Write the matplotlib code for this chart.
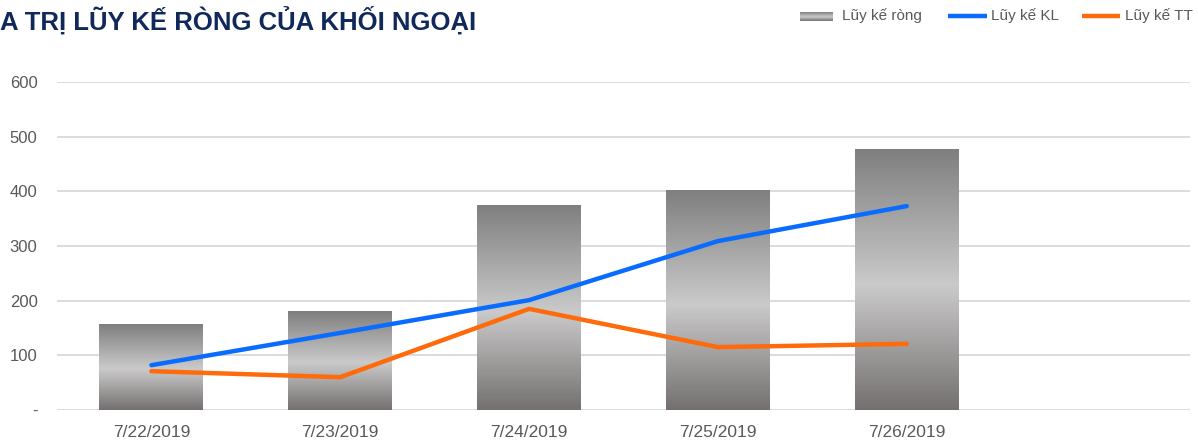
import numpy as np
import matplotlib.pyplot as plt
from matplotlib.colors import LinearSegmentedColormap
from matplotlib.lines import Line2D

# data
dates = ["7/22/2019", "7/23/2019", "7/24/2019", "7/25/2019", "7/26/2019"]
luy_ke_rong = [157, 180, 374, 402, 476]
luy_ke_kl = [82, 141, 201, 309, 373]
luy_ke_tt = [71, 60, 185, 115, 121]
yticks = [0, 100, 200, 300, 400, 500, 600]
ytick_labels = ["-", "100", "200", "300", "400", "500", "600"]

title = "A TRỊ LŨY KẾ RÒNG CỦA KHỐI NGOẠI"
text_color = "#595959"

plt.rcParams['font.family'] = ['Liberation Sans', 'DejaVu Sans']

# grey "metal" gradient: dark top, light middle, darker bottom
bar_cmap = LinearSegmentedColormap.from_list(
    "metal", [(0.0, "#7f7f7f"), (0.52, "#cbcaca"), (1.0, "#747070")])

W, H = 1198, 444
fig = plt.figure(figsize=(W / 100, H / 100), dpi=100)
ax = fig.add_axes([57 / W, 34 / H, (1190 - 57) / W, (410 - 82) / H])

x = np.arange(len(dates))
bar_w = 0.55
grad = np.linspace(0, 1, 256).reshape(-1, 1)
for xi, v in zip(x, luy_ke_rong):
    ax.imshow(grad, cmap=bar_cmap, aspect='auto', origin='upper',
              extent=[xi - bar_w / 2, xi + bar_w / 2, 0, v], zorder=2,
              interpolation='bilinear')

ax.plot(x, luy_ke_kl, color="#0a6cff", linewidth=3.2, solid_capstyle='round', zorder=3)
ax.plot(x, luy_ke_tt, color="#ff6a0a", linewidth=3.2, solid_capstyle='round', zorder=3)

ax.set_xlim(-0.5, 5.5)
ax.set_ylim(0, 600)
ax.set_yticks(yticks)
ax.set_yticklabels(ytick_labels)
ax.set_xticks(x)
ax.set_xticklabels(dates)
ax.tick_params(axis='y', length=0, pad=14, labelsize=12, labelcolor=text_color)
ax.tick_params(axis='x', length=0, pad=11, labelsize=12.5, labelcolor=text_color)
for s in ax.spines.values():
    s.set_visible(False)
ax.grid(axis='y', color="#d9d9d9", linewidth=1.3, zorder=0)
ax.set_axisbelow(True)

fig.text(0, 1 - 20 / H, title, fontsize=18.5, fontweight='bold',
         color="#10295a", va='center', ha='left')

# legend drawn by hand so the swatch keeps the gradient
ly = 1 - 16 / H
sw = fig.add_axes([800 / W, (H - 21) / H, 33 / W, 9 / H])
sw.imshow(grad, cmap=bar_cmap, aspect='auto')
sw.axis('off')
fig.text(842 / W, ly, "Lũy kế ròng", fontsize=11, color=text_color, va='center')
fig.add_artist(Line2D([948 / W, 987 / W], [ly, ly], color="#0a6cff", linewidth=3.2,
                      solid_capstyle='butt', transform=fig.transFigure))
fig.text(991 / W, ly, "Lũy kế KL", fontsize=11, color=text_color, va='center')
fig.add_artist(Line2D([1082 / W, 1120 / W], [ly, ly], color="#ff6a0a", linewidth=3.2,
                      solid_capstyle='butt', transform=fig.transFigure))
fig.text(1125 / W, ly, "Lũy kế TT", fontsize=11, color=text_color, va='center')

fig.savefig("out.png", dpi=100)
